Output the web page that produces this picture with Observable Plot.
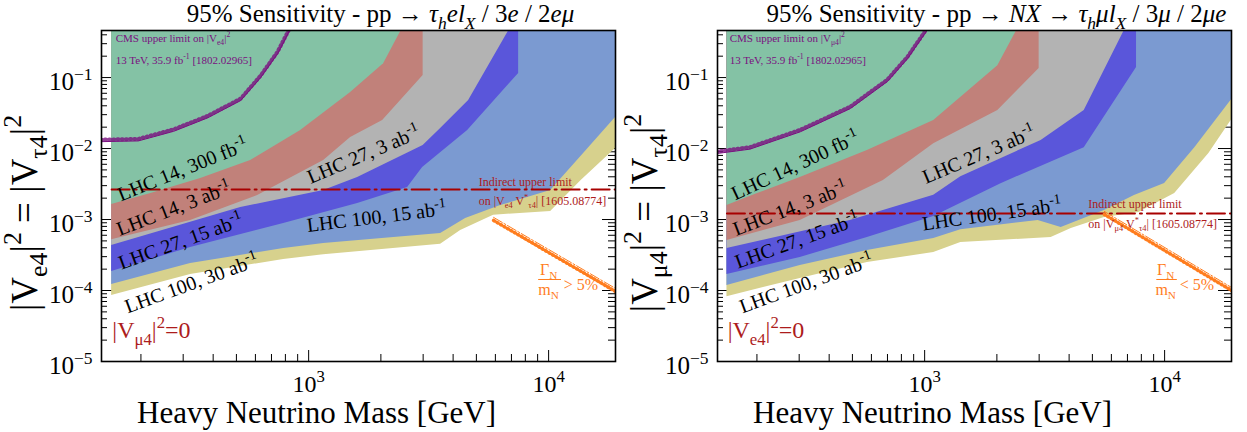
<!DOCTYPE html>
<html><head><meta charset="utf-8">
<script src="https://cdn.jsdelivr.net/npm/d3@7"></script>
<script src="https://cdn.jsdelivr.net/npm/@observablehq/plot@0.6"></script>
<style>
body{margin:0;background:#fff;}
#wrap{display:flex;width:1247px;height:432px;overflow:hidden;}
svg{font-family:"Liberation Serif","Times New Roman",serif;display:block;}
</style></head><body><div id="wrap"></div>
<script>
// ---------------- axis ticks ----------------
const xMajor = [1000, 10000];
const xMajorLabels = ["10^{3}", "10^{4}"];
const xMinor = [200,300,400,500,600,700,800,900,2000,3000,4000,5000,6000,7000,8000,9000];
const yMajor = [1e-5, 1e-4, 1e-3, 1e-2, 1e-1];
const yMajorLabels = ["10^{−5}", "10^{−4}", "10^{−3}", "10^{−2}", "10^{−1}"];
const yMinorMantissa = [2,3,4,5,6,7,8,9];
const yMinorExponents = [-5,-4,-3,-2,-1];

// ---------------- left panel: tau_h e l_X ----------------
const L_green_m = [151, 220, 355, 573, 926, 1496, 2053, 2535];
const L_green_v = [1.63e-3, 2.32e-3, 3.78e-3, 6.78e-3, 1.79e-2, 6.15e-2, 0.157, 0.6];
const L_red_m = [151, 322, 613, 1155, 1496, 2034, 3000, 3000];
const L_red_v = [5.2e-4, 9.7e-4, 2.18e-3, 6.8e-3, 1.43e-2, 2.48e-2, 0.107, 0.6];
const L_gray_m = [151, 521, 1155, 1600, 3000, 3548, 4642, 7145];
const L_gray_v = [4.3e-4, 1.48e-3, 2.56e-3, 3.91e-3, 1.1e-2, 1.91e-2, 4.74e-2, 0.6];
const L_blue_m = [151, 322, 787, 1600, 2585, 2985, 4598, 7500, 7500];
const L_blue_v = [1.85e-4, 4.03e-4, 8.8e-4, 1.68e-3, 2.82e-3, 5.4e-3, 1.79e-2, 0.114, 0.6];
const L_lblue_m = [151, 322, 787, 1155, 3548, 4510, 6310, 10200, 13990, 19000];
const L_lblue_v = [1.22e-4, 2.4e-4, 3.91e-4, 4.59e-4, 6.36e-4, 1.03e-3, 1.57e-3, 2.56e-3, 8.5e-3, 2.73e-2];
const L_yellow_m = [151, 322, 787, 1155, 3548, 4299, 5900, 10200, 13600, 19000];
const L_yellow_v = [8.5e-5, 1.68e-4, 2.74e-4, 3.2e-4, 4.5e-4, 7e-4, 1.15e-3, 1.3e-3, 3.5e-3, 1e-2];
const L_cms_m = [136, 195, 274, 379, 521, 631, 743, 841];
const L_cms_v = [0.0125, 0.0128, 0.0175, 0.027, 0.0474, 0.1, 0.218, 0.49];
const L_indirect_m = [151, 19000];
const L_indirect_v = 2.65e-3;
const L_width_m = [5900, 19000];
const L_width_v = [1.07e-3, 1.07e-4];

// ---------------- right panel: NX -> tau_h mu l_X ----------------
const R_green_m = [150, 200, 303, 577, 1091, 2018, 2523];
const R_green_v = [1.57e-3, 2.3e-3, 3.9e-3, 9.4e-3, 2.48e-2, 0.147, 0.6];
const R_red_m = [150, 303, 673, 1091, 2018, 3000, 3000];
const R_red_v = [5.06e-4, 9.7e-4, 3.54e-3, 1.17e-2, 3.43e-2, 0.134, 0.6];
const R_gray_m = [150, 490, 1091, 1415, 3057, 4624, 7068];
const R_gray_v = [3.9e-4, 9.7e-4, 2.2e-3, 4.0e-3, 1.3e-2, 3.43e-2, 0.6];
const R_blue_m = [150, 303, 577, 1091, 2080, 4624, 7637, 7637];
const R_blue_v = [1.68e-4, 2.92e-4, 5.57e-4, 1.1e-3, 3.2e-3, 1.03e-2, 0.138, 0.6];
const R_lblue_m = [150, 303, 577, 1091, 1415, 2972, 3707, 5610, 7486, 10000, 13360, 19300];
const R_lblue_v = [1.18e-4, 2.25e-4, 3.66e-4, 5.4e-4, 7.2e-4, 9.7e-4, 7.7e-4, 1.34e-3, 2.18e-3, 3.21e-3, 1.03e-2, 5.2e-2];
const R_yellow_m = [150, 303, 577, 1091, 1415, 3365, 4083, 5610, 7800, 11020, 15290, 19300];
const R_yellow_v = [8.2e-5, 1.48e-4, 2.48e-4, 3.43e-4, 4.74e-4, 5.57e-4, 7.47e-4, 1.07e-3, 1.26e-3, 2.32e-3, 8.5e-3, 2.73e-2];
const R_cms_m = [136, 187, 303, 490, 700, 849, 1040];
const R_cms_v = [0.0085, 0.0098, 0.0172, 0.0365, 0.088, 0.185, 0.5];
const R_indirect_m = [150, 19300];
const R_indirect_v = 1.22e-3;
const R_width_m = [5610, 19300];
const R_width_v = [1.3e-3, 1.07e-4];

// ---------------- labels ----------------
const bandNames = ["LHC 14, 300 fb^{-1}", "LHC 14, 3 ab^{-1}", "LHC 27, 3 ab^{-1}", "LHC 27, 15 ab^{-1}", "LHC 100, 15 ab^{-1}", "LHC 100, 30 ab^{-1}"];
const L_label_m = [299, 274, 1695, 293, 1920, 325];
const L_label_v = [5.06e-3, 1.43e-3, 8.2e-3, 4.9e-4, 1.08e-3, 1.26e-4];
const L_label_rot = [-22, -21, -23, -20, -7, -20];
const R_label_m = [289, 275, 1683, 294, 1906, 321];
const R_label_v = [5.77e-3, 1.43e-3, 8.2e-3, 5.06e-4, 1.18e-3, 1.26e-4];
const R_label_rot = [-25, -21, -23, -20, -8, -20];

const colors = {green:"#84c2a5", red:"#c1817a", gray:"#b3b3b3", blue:"#5a56da", lblue:"#7b9ad1", yellow:"#d7d18d"};
const darkred = "#ad1c1c", purple = "#7a0f80", orange = "#ff7d1e";

const yMinor = [];
for (const e of yMinorExponents) for (const m of yMinorMantissa) { const v = m * Math.pow(10, e); if (v < 0.46) yMinor.push(v); }

function zipPts(ms, vs) { return ms.map((m, i) => ({m, v: vs[i]})); }

function rich(svg) {
  svg.querySelectorAll("text").forEach(el => {
    const s = el.textContent;
    if (!/[_^~]/.test(s)) return;
    while (el.firstChild) el.removeChild(el.firstChild);
    const level = []; let italic = false, buf = "";
    const flush = () => {
      if (!buf) return;
      const t = document.createElementNS("http://www.w3.org/2000/svg", "tspan");
      t.textContent = buf;
      const lv = level.length ? level[level.length - 1] : 0;
      if (lv !== 0) { t.setAttribute("font-size", "70%"); t.setAttribute("baseline-shift", lv > 0 ? "0.6em" : "-0.4em"); }
      if (italic) t.setAttribute("font-style", "italic");
      el.appendChild(t); buf = "";
    };
    for (let i = 0; i < s.length; i++) {
      const c = s[i];
      if ((c === "_" || c === "^") && s[i + 1] === "{") { flush(); level.push(c === "^" ? 1 : -1); i++; }
      else if (c === "}" && level.length) { flush(); level.pop(); }
      else if (c === "~") { flush(); italic = !italic; }
      else buf += c;
    }
    flush();
  });
}

function panel(p) {
  const height = 432, mt = 30, mb = 71;
  const frameW = p.width - p.ml - p.mr, frameH = height - mt - mb;
  const TOP = 1;
  const bands = [
    [p.yellow_m, p.yellow_v, colors.yellow], [p.lblue_m, p.lblue_v, colors.lblue],
    [p.blue_m, p.blue_v, colors.blue], [p.gray_m, p.gray_v, colors.gray],
    [p.red_m, p.red_v, colors.red], [p.green_m, p.green_v, colors.green]
  ];
  const labels = bandNames.map((t, i) => ({t, m: p.label_m[i], v: p.label_v[i], r: p.label_rot[i]}));
  const marks = [
    // inner ticks (drawn beneath the filled regions)
    Plot.tickY(yMajor, {y: d => d, insetRight: frameW - 11, stroke: "black"}),
    Plot.tickY(yMinor, {y: d => d, insetRight: frameW - 6, stroke: "black"}),
    Plot.tickY(yMajor, {y: d => d, insetLeft: frameW - 13, stroke: "black"}),
    Plot.tickY(yMinor, {y: d => d, insetLeft: frameW - 7, stroke: "black"}),
    Plot.tickX(xMajor, {x: d => d, insetTop: frameH - 11, stroke: "black"}),
    Plot.tickX(xMinor, {x: d => d, insetTop: frameH - 7, stroke: "black"}),
    ...bands.map(([ms, vs, c]) => Plot.areaY(zipPts(ms, vs), {x: "m", y1: "v", y2: () => TOP, fill: c, clip: true})),
    // CMS limit hatched curve
    Plot.line(zipPts(p.cms_m, p.cms_v), {x: "m", y: "v", stroke: purple, strokeOpacity: 0.8, strokeWidth: 4, strokeDasharray: "0.9,3.3", dy: -2, clip: true}),
    Plot.line(zipPts(p.cms_m, p.cms_v), {x: "m", y: "v", stroke: purple, strokeWidth: 1, clip: true}),
    // indirect limit
    Plot.line(p.indirect_m.map(m => ({m, v: p.indirect_v})), {x: "m", y: "v", stroke: "#a80000", strokeWidth: 2, strokeDasharray: "18,5,2,5", clip: true}),
    // width line (hatched)
    Plot.line(zipPts(p.width_m, p.width_v), {x: "m", y: "v", stroke: orange, strokeWidth: 3.5, strokeDasharray: "1,3", dy: 3, clip: true}),
    Plot.line(zipPts(p.width_m, p.width_v), {x: "m", y: "v", stroke: orange, strokeWidth: 1, strokeDasharray: "10,2,2,2", clip: true}),
    // band labels
    Plot.text(labels, {x: "m", y: "v", text: "t", rotate: "r", fontSize: 20, fill: "black"}),
    // CMS text
    Plot.text([p.cms1], {x: () => p.cmsText_m, y: () => 0.354, text: d => d, textAnchor: "start", fontSize: 11, fill: purple}),
    Plot.text([p.cms2], {x: () => p.cmsText_m, y: () => 0.173, text: d => d, textAnchor: "start", fontSize: 11, fill: purple}),
    // indirect text
    Plot.text(["Indirect upper limit"], {x: () => p.indText_m, y: () => p.indText_v[0], text: d => d, textAnchor: "start", fontSize: 12, fill: darkred}),
    Plot.text([p.ind2], {x: () => p.indText_m, y: () => p.indText_v[1], text: d => d, textAnchor: "start", fontSize: 12, fill: darkred}),
    // Gamma/m label
    Plot.text(["Γ_{N}"], {x: () => p.gam_m, y: () => 1.98e-4, text: d => d, fontSize: 16, fill: orange}),
    Plot.text(["m_{N}"], {x: () => p.gam_m, y: () => 1.03e-4, text: d => d, fontSize: 16, fill: orange}),
    Plot.line(p.gamBar_m.map(m => ({m, v: 1.43e-4})), {x: "m", y: "v", stroke: orange, strokeWidth: 1}),
    Plot.text([p.gamRel], {x: () => p.gamRel_m, y: () => 1.22e-4, text: d => d, textAnchor: "start", fontSize: 16, fill: orange}),
    // coupling = 0 label
    Plot.text([p.zero], {x: () => p.zero_m, y: () => 2.73e-5, text: d => d, textAnchor: "start", fontSize: 24, fill: darkred}),
    // tick labels
    Plot.text(yMajor, {y: d => d, text: (d, i) => yMajorLabels[i], frameAnchor: "left", lineAnchor: "middle", textAnchor: "end", dx: -9, dy: 4, fontSize: 25}),
    Plot.text(xMajor, {x: d => d, text: (d, i) => xMajorLabels[i], frameAnchor: "bottom", lineAnchor: "middle", textAnchor: "middle", dy: 23, fontSize: 24}),
    // axis titles
    Plot.text(["Heavy Neutrino Mass [GeV]"], {frameAnchor: "bottom", lineAnchor: "middle", textAnchor: "middle", text: d => d, dx: -42, dy: 52, fontSize: 31}),
    Plot.text([p.ytitle], {frameAnchor: "left", lineAnchor: "middle", textAnchor: "middle", text: d => d, dx: p.ytitleDx, dy: 17, rotate: -90, fontSize: 37}),
    Plot.text([p.title], {frameAnchor: "top", lineAnchor: "middle", textAnchor: "middle", text: d => d, dx: 22, dy: -17, fontSize: 25}),
    Plot.frame({stroke: "black", strokeWidth: 1.6})
  ];
  const svg = Plot.plot({
    width: p.width, height, marginLeft: p.ml, marginRight: p.mr, marginTop: mt, marginBottom: mb,
    x: {type: "log", domain: [137, 19000], axis: null},
    y: {type: "log", domain: [1e-5, 0.46], axis: null},
    style: {fontFamily: "Liberation Serif, Times New Roman, serif", background: "white", overflow: "visible"},
    marks
  });
  rich(svg);
  return svg;
}

const left = panel({
  width: 620, ml: 101, mr: 5,
  green_m: L_green_m, green_v: L_green_v, red_m: L_red_m, red_v: L_red_v, gray_m: L_gray_m, gray_v: L_gray_v,
  blue_m: L_blue_m, blue_v: L_blue_v, lblue_m: L_lblue_m, lblue_v: L_lblue_v, yellow_m: L_yellow_m, yellow_v: L_yellow_v,
  cms_m: L_cms_m, cms_v: L_cms_v, indirect_m: L_indirect_m, indirect_v: L_indirect_v, width_m: L_width_m, width_v: L_width_v,
  label_m: L_label_m, label_v: L_label_v, label_rot: L_label_rot,
  cms1: "CMS upper limit on |V_{e4}|^{2}", cms2: "13 TeV, 35.9 fb^{-1} [1802.02965]", cmsText_m: 157,
  ind2: "on |V_{e4} V^{*}_{τ4}| [1605.08774]", indText_m: 5110, indText_v: [3.32e-3, 1.79e-3],
  gam_m: 10000, gamBar_m: [9080, 11220], gamRel: "> 5%", gamRel_m: 11550,
  zero: "|V_{μ4}|^{2}=0", zero_m: 152,
  ytitle: "|V_{e4}|^{2} = |V_{τ4}|^{2}", ytitleDx: -76,
  title: "95% Sensitivity - pp → ~τ_{h}el_{X}~ / 3~e~ / 2~eμ~"
});
const right = panel({
  width: 627, ml: 97, mr: 16,
  green_m: R_green_m, green_v: R_green_v, red_m: R_red_m, red_v: R_red_v, gray_m: R_gray_m, gray_v: R_gray_v,
  blue_m: R_blue_m, blue_v: R_blue_v, lblue_m: R_lblue_m, lblue_v: R_lblue_v, yellow_m: R_yellow_m, yellow_v: R_yellow_v,
  cms_m: R_cms_m, cms_v: R_cms_v, indirect_m: R_indirect_m, indirect_v: R_indirect_v, width_m: R_width_m, width_v: R_width_v,
  label_m: R_label_m, label_v: R_label_v, label_rot: R_label_rot,
  cms1: "CMS upper limit on |V_{μ4}|^{2}", cms2: "13 TeV, 35.9 fb^{-1} [1802.02965]", cmsText_m: 154,
  ind2: "on |V_{μ4} V^{*}_{τ4}| [1605.08774]", indText_m: 4810, indText_v: [1.63e-3, 8.5e-4],
  gam_m: 10100, gamBar_m: [9270, 11200], gamRel: "< 5%", gamRel_m: 11560,
  zero: "|V_{e4}|^{2}=0", zero_m: 151,
  ytitle: "|V_{μ4}|^{2} = |V_{τ4}|^{2}", ytitleDx: -72,
  title: "95% Sensitivity - pp → ~NX~ → ~τ_{h}μl_{X}~ / 3~μ~ / 2~μe~"
});
document.getElementById("wrap").append(left, right);
</script></body></html>
